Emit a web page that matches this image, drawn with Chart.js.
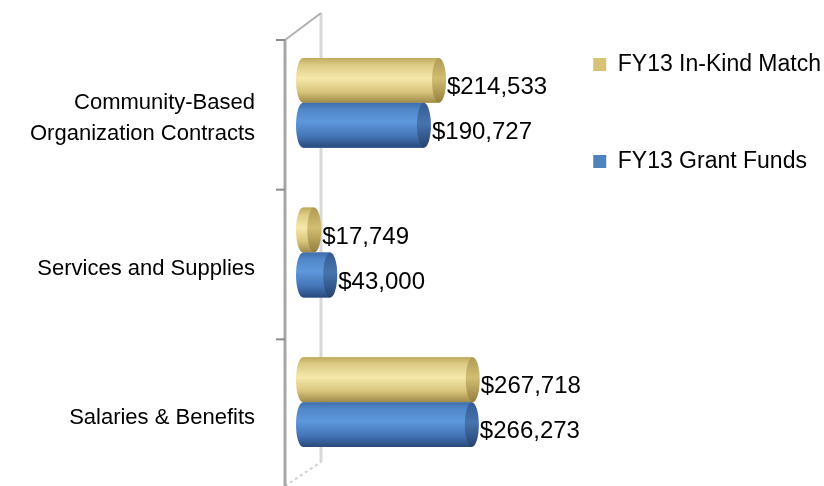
<!DOCTYPE html>
<html>
<head>
<meta charset="utf-8">
<script src="https://cdn.jsdelivr.net/npm/chart.js@4/dist/chart.umd.min.js"></script>
<style>
  html, body { margin: 0; padding: 0; background: #fff; }
  #wrap { width: 824px; height: 486px; }
</style>
</head>
<body>
<div id="wrap"><canvas id="budgetChart" width="824" height="486"></canvas></div>
<script>
const categories = [['Community-Based', 'Organization Contracts'], 'Services and Supplies', 'Salaries & Benefits'];
const inKindMatch = [214533, 17749, 267718];
const grantFunds = [190727, 43000, 266273];
const seriesNames = ['FY13 In-Kind Match', 'FY13 Grant Funds'];

const FONT = "'Liberation Sans', Arial, sans-serif";

// shading for the cylinder look: body, end cap
const shades = [
    {
        body: [[0, '#bfa95e'], [0.15, '#dccb85'], [0.45, '#f5e8aa'], [0.75, '#d9c57c'], [1, '#a08a48']],
        cap: [[0, '#b09a55'], [0.45, '#d2bd72'], [1, '#94803e']]
    },
    {
        body: [[0, '#3f6dab'], [0.15, '#5087c8'], [0.42, '#5e98dc'], [0.75, '#4374b6'], [1, '#29497a']],
        cap: [[0, '#345c94'], [0.45, '#4774ad'], [1, '#254470']]
    }
];

function vGradient(ctx, top, h, stops) {
    const g = ctx.createLinearGradient(0, top, 0, top + h);
    stops.forEach(([p, c]) => g.addColorStop(p, c));
    return g;
}

// draws the 3D wall edges of the plot
const wallFrame = {
    id: 'wallFrame',
    beforeDatasetsDraw(chart) {
        const { ctx, chartArea: a } = chart;
        const band = (a.bottom - a.top) / chart.data.labels.length;
        const fx = a.left - 18, bx = a.left + 18;
        const top = a.top + 12;
        ctx.save();
        // back wall edge
        ctx.strokeStyle = '#d9d9d9';
        ctx.lineWidth = 3;
        ctx.beginPath();
        ctx.moveTo(bx, top - 27);
        ctx.lineTo(bx, a.bottom - 15);
        ctx.stroke();
        // top side edge
        ctx.strokeStyle = '#b0b0b0';
        ctx.lineWidth = 2;
        ctx.beginPath();
        ctx.moveTo(fx, top);
        ctx.lineTo(bx, top - 27);
        ctx.stroke();
        // bottom side edge
        ctx.strokeStyle = '#d0d0d0';
        ctx.setLineDash([3, 3]);
        ctx.beginPath();
        ctx.moveTo(fx, a.bottom + 9);
        ctx.lineTo(bx, a.bottom - 15);
        ctx.stroke();
        ctx.setLineDash([]);
        // front axis line + ticks
        ctx.strokeStyle = '#a6a6a6';
        ctx.lineWidth = 3;
        ctx.beginPath();
        ctx.moveTo(fx, top);
        ctx.lineTo(fx, a.bottom + 20);
        ctx.stroke();
        ctx.lineWidth = 2;
        ctx.strokeStyle = '#8c8c8c';
        for (let k = 0; k <= chart.data.labels.length; k++) {
            const ty = top + k * band;
            ctx.beginPath();
            ctx.moveTo(fx - 9, ty);
            ctx.lineTo(fx, ty);
            ctx.stroke();
        }
        ctx.restore();
    }
};

// cylinders and value labels
const cylinders = {
    id: 'cylinders',
    afterDatasetsDraw(chart) {
        const ctx = chart.ctx;
        chart.data.datasets.forEach((ds, i) => {
            const meta = chart.getDatasetMeta(i);
            meta.data.forEach((bar, j) => {
                const { x, y, base, height } = bar.getProps(['x', 'y', 'base', 'height'], true);
                const h = height / 2, rx = 7;
                const top = y - h;
                ctx.save();
                ctx.fillStyle = vGradient(ctx, top, height, shades[i].body);
                ctx.beginPath();
                ctx.ellipse(base, y, rx, h, 0, Math.PI / 2, Math.PI * 1.5);
                ctx.lineTo(x, top);
                ctx.lineTo(x, top + height);
                ctx.closePath();
                ctx.fill();
                ctx.fillStyle = vGradient(ctx, top, height, shades[i].cap);
                ctx.beginPath();
                ctx.ellipse(x, y, rx, h, 0, 0, Math.PI * 2);
                ctx.fill();
                ctx.fillStyle = '#000';
                ctx.font = '24px ' + FONT;
                ctx.textAlign = 'left';
                ctx.textBaseline = 'middle';
                ctx.fillText('$' + ds.data[j].toLocaleString('en-US'), x + rx + 1, y + 7);
                ctx.restore();
            });
        });
    }
};

// legend sits higher and a bit further right than the layout puts it
const legendShift = {
    id: 'legendShift',
    afterLayout(chart) {
        const lg = chart.legend;
        const dy = -21 - lg.top;
        lg.top += dy; lg.bottom += dy;
        lg.left += 7; lg.right += 7;
    }
};

const budgetChart = {
    type: 'bar',
    data: {
        labels: categories,
        datasets: [{
            label: seriesNames[0],
            data: inKindMatch,
            backgroundColor: '#d8c276',
            categoryPercentage: 0.6,
            barPercentage: 1.0
        }, {
            label: seriesNames[1],
            data: grantFunds,
            backgroundColor: '#4f81bd',
            categoryPercentage: 0.6,
            barPercentage: 1.0
        }]
    },
    options: {
        indexAxis: 'y',
        responsive: false,
        animation: false,
        layout: {
            padding: { top: 28, bottom: 9, left: 0, right: 0 }
        },
        scales: {
            x: {
                display: false,
                min: 0,
                max: 330000
            },
            y: {
                grid: { display: false, drawTicks: false },
                border: { display: false },
                ticks: {
                    color: '#000',
                    font: { family: FONT, size: 22, lineHeight: 1.4 },
                    padding: 48,
                    labelOffset: 16
                },
                afterFit(scale) {
                    scale.width = 303;
                    scale.paddingTop = 0;
                    scale.paddingBottom = 0;
                }
            }
        },
        plugins: {
            legend: {
                position: 'right',
                align: 'start',
                maxWidth: 400,
                labels: {
                    color: '#000',
                    font: { family: FONT, size: 23 },
                    boxWidth: 13,
                    boxHeight: 13,
                    padding: 74
                }
            },
            tooltip: { enabled: false }
        }
    },
    plugins: [wallFrame, cylinders, legendShift]
};

const chart1 = new Chart(document.getElementById('budgetChart'), budgetChart);
</script>
</body>
</html>
